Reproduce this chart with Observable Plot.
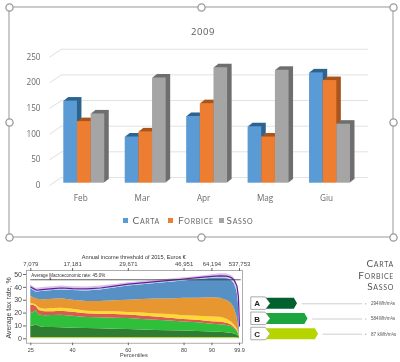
<!DOCTYPE html>
<html><head><meta charset="utf-8">
<script src="https://cdn.jsdelivr.net/npm/d3@7"></script>
<script src="https://cdn.jsdelivr.net/npm/@observablehq/plot@0.6"></script>
<style>
html,body{margin:0;padding:0;background:#fff}
#page{position:relative;width:400px;height:362px;overflow:hidden;font-family:"Open Sans",sans-serif;filter:blur(0.35px)}
#page svg{position:absolute;left:0;top:0;background:transparent}
.t{position:absolute;white-space:nowrap;line-height:1;color:#666}
.sc{font-variant:small-caps;letter-spacing:.7px;font-family:Lato,sans-serif}
.sw{position:absolute;width:5px;height:5px}
</style></head><body><div id="page"></div>
<script>
// Main bar chart
const months = ["Feb","Mar","Apr","Mag","Giu"];
const series = ["Carta","Forbice","Sasso"];
const carta = [160,90,130,110,215];
const forbice = [120,100,155,90,200];
const sasso = [135,205,225,220,115];
const barTicks = [0,50,100,150,200,250];
// Tax-rate chart: cumulative layer tops by percentile
const percentiles = [25,26,27,28,30,33,36,40,45,50,55,60,65,70,75,80,85,90,93,95,96,97,98,99,99.5,99.9];
const baseTop = [1,1,1,1,1,1,1,1,1,1,1,1,1,1,1,1,1,1,1,1,1,1,1,.9,.7,.4];
const darkGreenTop = [9.5,10,11,9.5,8.8,8.7,8.6,8.3,8,7.8,7.5,7.2,6.9,6.5,6.2,6,5.7,5.3,5,4.8,4.6,4.3,3.8,3,2.2,1];
const greenTop = [19.5,20.5,22,18.5,18,18.2,18.3,17.5,16.5,16.3,16,15.7,15,14.4,13.8,13,12.5,11.3,11,10.5,10,9.5,8,6,4,1.5];
const redTop = [26,26,25,22,21,21,21.5,20.7,19.5,19,18.8,18.5,17.8,17,16,15,14.5,13.3,13,12.3,11.8,10.8,9,6.8,4.6,2];
const yellowTop = [27.5,27,26,24,23,23.5,23.7,23,21.5,21,21,20.5,20,19.3,18.8,18,17.5,17,16.8,15.5,14.5,13,10.7,8,5.2,2.5];
const orangeTop = [33,32,31,30.5,30.3,30.8,31.2,30,29,29,29.5,30,30.5,31,31,31.5,31.5,32,31.5,30,29,27.5,24,17,10,3.5];
const blueTop = [39,37.5,36.2,36.5,37,37.5,38,37.5,37.2,38,39.5,41,42,43,44,45,46,47,47.3,47,46.5,45.5,43,37,28,6];
const skyTop = [39.8,38.3,37,37.3,37.8,38.3,38.8,38.3,38,38.8,40.3,41.8,42.8,43.8,44.8,45.8,46.8,47.8,48,47.7,47.2,46.3,44,38.5,30,7];
const purpleLine = [40.3,39,37.8,38,38.5,39,39.5,39,38.8,39.5,41,42.5,43.5,44.5,45.5,46.5,47.5,48.5,49,48.8,48.3,47.5,45.5,41,33,10];
const haloTop = [41.8,40.5,39.3,39.5,40,40.5,41,40.5,40.2,41,42.2,43.5,44.5,45.5,46.5,47.5,48.5,49.8,50.5,50.5,50,49.3,47.5,43,36,14];
const taxTicks = [0,10,20,30,40,50];
const pctTicks = [25,40,60,80,90,99.9];
const incomeLabels = ["7,079","17,181","29,671","46,951","64,194","537,753"];
const macroRate = 45.9;
// Energy classes
const classes = ["A","B","C"];
const classRank = [1,2,3];
const classValues = ["294Wh/m²a","584Wh/m²a","87 kWh/m²a"];

const page = document.getElementById("page");
const add = el => page.appendChild(el);

// selection frame
const handles = [];
for (const hx of [0,.5,1]) for (const hy of [0,.5,1]) if (hx!==.5||hy!==.5) handles.push({hx,hy});
add(Plot.plot({width:400,height:362,margin:0,
  x:{domain:[0,1],range:[9,393],axis:null},y:{domain:[0,1],range:[7,237],axis:null},
  marks:[
    Plot.rect([{}],{x1:0,x2:1,y1:0,y2:1,fill:"none",stroke:"#a8a8a8",strokeWidth:1.2}),
    Plot.dot(handles,{x:"hx",y:"hy",r:3.6,fill:"#fff",stroke:"#9a9a9a",strokeWidth:1.3})
  ]}));

// grid and y axis of bar chart
const frameM = {marginTop:54.4,marginBottom:179.3};
const depthUp = 11.1, depthDown = -4.5, backX = 0.0376;
add(Plot.plot({width:400,height:362,...frameM,marginLeft:49,marginRight:32,
  style:{background:"transparent",fontFamily:"'Open Sans',sans-serif",fontSize:"8.2px",color:"#6a6a6a"},
  x:{domain:[0,1],axis:null},y:{domain:[0,250],axis:null},
  marks:[
    Plot.ruleY(barTicks,{y:d=>d+depthUp,x1:backX,x2:1,stroke:"#e2e2e2",strokeOpacity:1,strokeWidth:1}),
    Plot.link(barTicks,{x1:0,x2:backX,y1:d=>d+depthDown,y2:d=>d+depthUp,stroke:"#dedede",strokeWidth:1}),
    Plot.axisY(barTicks,{anchor:"left",tickSize:0,tickPadding:9,dy:2.3,label:null,fill:"#6a6a6a"})
  ]}));

// bars
const rows = (name,vals) => months.map((m,i)=>({month:m,name,value:vals[i]}));
const barSets = [[rows("Carta",carta),"#5b9bd5","#2c638f"],[rows("Forbice",forbice),"#ed7d31","#a9541c"],[rows("Sasso",sasso),"#a5a5a5","#6e6e6e"]];
const barMarks = [];
for (const [data,front,side] of barSets){
  for (const k of [1,2,3,4,5]) barMarks.push(Plot.barY(data,{fx:"month",x:"name",y:"value",fill:side,dx:k*.9,dy:-k*.7}));
  barMarks.push(Plot.barY(data,{fx:"month",x:"name",y:"value",fill:front}));
}
add(Plot.plot({width:400,height:362,...frameM,marginLeft:63.3,marginRight:50,
  style:{background:"transparent",fontFamily:"'Open Sans',sans-serif",fontSize:"8.2px",color:"#6a6a6a"},
  fx:{domain:months,paddingInner:1/3,paddingOuter:0,label:null,axis:null,round:false},
  x:{domain:series,padding:0,axis:null,round:false},y:{domain:[0,250],axis:null},
  marks:[
    ...barMarks,
    Plot.axisFx({anchor:"bottom",tickSize:0,tickPadding:12,dx:-3.5,label:null,fill:"#6a6a6a"})
  ]}));

// tax chart
const layer = (lo,hi,fill)=>Plot.areaY(percentiles,{x:d=>d,y1:(d,i)=>lo?lo[i]:0,y2:(d,i)=>hi[i],fill,curve:"linear"});
const incomeOf = new Map(pctTicks.map((p,i)=>[p,incomeLabels[i]]));
add(Plot.plot({width:400,height:362,marginLeft:26,marginRight:158,marginTop:270,marginBottom:19.3,
  style:{background:"transparent",fontFamily:"'Liberation Sans',sans-serif",fontSize:"6.5px",color:"#444"},
  x:{type:"linear",domain:[25,99.9],range:[30.3,239],axis:null},
  y:{domain:[0,50],range:[338.3,274],axis:null},
  marks:[
    layer(null,baseTop,"#c3d65c"),
    layer(baseTop,darkGreenTop,"#2e7d32"),
    layer(darkGreenTop,greenTop,"#2fbf3a"),
    layer(greenTop,redTop,"#d85a50"),
    layer(redTop,yellowTop,"#ffd92f"),
    layer(yellowTop,orangeTop,"#e8962f"),
    layer(orangeTop,blueTop,"#5690c4"),
    layer(blueTop,skyTop,"#a6d3f0"),
    layer(skyTop,haloTop,"#d9c2ea"),
    Plot.lineY(percentiles,{x:d=>d,y:(d,i)=>purpleLine[i],stroke:"#6a1b9a",strokeWidth:1.2,curve:"linear"}),
    Plot.ruleY([macroRate],{x1:25,x2:100.5,stroke:"#333",strokeWidth:.8}),
    Plot.frame({stroke:"#8a8a8a",strokeWidth:.7}),
    Plot.arrow([{}],{x1:32,x2:32,y1:48,y2:46,stroke:"#333",strokeWidth:.6,headLength:3}),
    Plot.text(["Average Macroeconomic rate: 45.0%"],{x:25.2,y:48.8,textAnchor:"start",fontSize:4.5,fill:"#333"}),
    Plot.axisY(taxTicks,{anchor:"left",tickSize:3,tickPadding:1.5,label:null,fontSize:7,stroke:"#666",fill:"#444"}),
    Plot.axisX(pctTicks,{anchor:"bottom",tickSize:2.5,tickPadding:2,label:null,tickFormat:d=>String(d),fontSize:5.5,stroke:"#666",fill:"#444"}),
    Plot.axisX(pctTicks,{anchor:"top",tickSize:3,tickPadding:1.5,label:null,tickFormat:d=>incomeOf.get(d),fontSize:6,stroke:"#666",fill:"#444"}),
    Plot.text(["Annual income threshold of 2015, Euros €"],{x:62,frameAnchor:"top",dy:-15,fontSize:5.6,fill:"#333"}),
    Plot.text(["Percentiles"],{x:62,frameAnchor:"bottom",dy:14,fontSize:5.6,fill:"#444"}),
    Plot.text(["Average tax rate, %"],{frameAnchor:"left",textAnchor:"middle",dx:-18,y:24,rotate:-90,fontSize:7,fill:"#444"})
  ]}));

// energy classes
const noseDepth = 0.3;
const arrowFor = (c,i)=>{
  const r = classRank[i];
  return [{c,y:i-.36,x1:-1.95,x2:r-noseDepth},{c,y:i,x1:-1.55,x2:r},{c,y:i+.36,x1:-1.95,x2:r-noseDepth}];
};
const boxFor = (c,i)=>[{c,y:i-.4,x1:-3.4,x2:-2},{c,y:i,x1:-3.4,x2:-1.55},{c,y:i+.4,x1:-3.4,x2:-2}];
const classColor = {A:"#00612e",B:"#1ba53f",C:"#b5d400"};
const classRows = classes.map((c,i)=>({c,i,r:classRank[i],v:classValues[i]}));
add(Plot.plot({width:400,height:362,margin:0,
  style:{background:"transparent",fontFamily:"'Liberation Sans',sans-serif"},
  x:{domain:[0,3],range:[286.5,318],axis:null},
  y:{domain:[0,2],range:[303.3,333.7],axis:null},
  marks:[
    Plot.ruleY(classRows,{y:"i",x1:d=>d.r+.45,x2:7.2,stroke:"#c8c8c8",strokeWidth:.9}),
    Plot.dot(classRows,{y:"i",x:7.5,r:.6,fill:"#999"}),
    ...classes.map((c,i)=>Plot.areaX(boxFor(c,i),{y:"y",x1:"x1",x2:"x2",fill:"#fff",stroke:"#aaa",strokeWidth:1,curve:"linear"})),
    ...classes.map((c,i)=>Plot.areaX(arrowFor(c,i),{y:"y",x1:"x1",x2:"x2",fill:classColor[c],curve:"linear"})),
    Plot.text(classRows,{y:"i",x:-2.85,text:"c",fontSize:8,fontWeight:"bold",fill:"#222"}),
    Plot.text(classRows,{y:"i",x:8,text:"v",textAnchor:"start",fontSize:4.6,fill:"#555"})
  ]}));

// html text
const html = (cls,text,css)=>{const d=document.createElement("div");d.className=cls;d.textContent=text;d.style.cssText=css;add(d);return d;};
html("t","2009","left:191px;top:27px;font-size:9.5px;letter-spacing:.6px;color:#595959");
const swatch=(x,col)=>{const d=document.createElement("div");d.className="sw";d.style.cssText=`left:${x}px;top:218px;background:${col}`;add(d);};
swatch(123,"#5b9bd5");swatch(168,"#ed7d31");swatch(219,"#a5a5a5");
html("t sc",series[0],"left:132.5px;top:215px;font-size:10px");
html("t sc",series[1],"left:178px;top:215px;font-size:10px");
html("t sc",series[2],"left:226.5px;top:215px;font-size:10px");
html("t sc",series[0],"right:6px;top:258px;font-size:10px;color:#555");
html("t sc",series[1],"right:6px;top:270px;font-size:10px;color:#555");
html("t sc",series[2],"right:6px;top:281px;font-size:10px;color:#555");
</script></body></html>
